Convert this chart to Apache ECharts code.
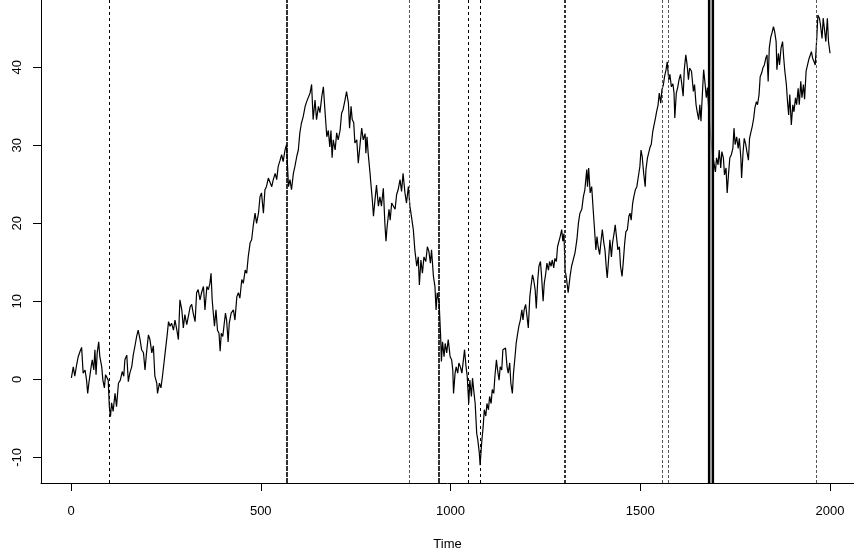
<!DOCTYPE html>
<html>
<head>
<meta charset="utf-8">
<script src="https://cdn.jsdelivr.net/npm/echarts@6/dist/echarts.min.js"></script>
<style>
  html, body { margin: 0; padding: 0; background: #fff; }
  #chart { width: 854px; height: 556px; }
</style>
</head>
<body>
<div id="chart"></div>
<script>
// series (time, value)
var times = [
  1, 6, 10, 15, 19, 24, 28, 32, 37, 41, 44, 47, 53, 56, 60, 63, 66, 69, 73, 76,
  81, 84, 88, 91, 95, 98, 101, 104, 107, 111, 116, 120, 125, 130, 135, 139, 142, 147, 151, 155,
  160, 164, 169, 173, 177, 182, 186, 191, 195, 199, 204, 208, 213, 217, 221, 226, 228, 233, 237, 241,
  245, 249, 253, 257, 261, 265, 270, 274, 279, 283, 287, 292, 296, 300, 305, 309, 314, 318, 322, 327,
  331, 335, 340, 344, 349, 353, 358, 362, 366, 369, 372, 375, 378, 382, 386, 390, 393, 396, 400, 403,
  407, 410, 414, 417, 422, 428, 432, 437, 441, 445, 450, 454, 459, 463, 467, 472, 476, 480, 485, 489,
  494, 498, 502, 507, 511, 515, 520, 524, 529, 533, 538, 542, 546, 551, 555, 559, 564, 568, 573, 577,
  581, 586, 590, 595, 599, 603, 607, 612, 617, 621, 625, 630, 634, 638, 643, 647, 652, 656, 661, 665,
  669, 674, 678, 682, 685, 688, 691, 696, 700, 704, 709, 713, 717, 722, 726, 731, 734, 738, 741, 745,
  748, 753, 757, 762, 766, 770, 775, 777, 780, 783, 788, 790, 794, 797, 801, 805, 810, 814, 818, 823,
  827, 830, 833, 838, 841, 845, 849, 854, 858, 862, 867, 871, 875, 880, 884, 889, 893, 897, 902, 906,
  911, 915, 918, 922, 926, 930, 935, 939, 943, 947, 950, 955, 959, 962, 965, 970, 974, 976, 979, 983,
  986, 990, 994, 999, 1003, 1006, 1008, 1012, 1015, 1019, 1022, 1026, 1030, 1034, 1037, 1041, 1044, 1048, 1051, 1055,
  1058, 1062, 1065, 1069, 1072, 1076, 1078, 1082, 1086, 1089, 1093, 1096, 1100, 1103, 1107, 1110, 1114, 1117, 1121, 1124,
  1128, 1131, 1135, 1138, 1142, 1145, 1149, 1152, 1156, 1159, 1163, 1166, 1170, 1173, 1177, 1180, 1184, 1188, 1191, 1194,
  1198, 1202, 1205, 1209, 1212, 1216, 1219, 1223, 1226, 1230, 1233, 1237, 1240, 1244, 1247, 1251, 1254, 1258, 1261, 1265,
  1268, 1272, 1275, 1279, 1282, 1286, 1289, 1293, 1296, 1299, 1302, 1306, 1310, 1315, 1319, 1324, 1328, 1333, 1337, 1341,
  1346, 1350, 1354, 1359, 1361, 1364, 1368, 1372, 1376, 1379, 1383, 1386, 1389, 1393, 1397, 1400, 1404, 1407, 1411, 1413,
  1417, 1420, 1424, 1427, 1431, 1434, 1438, 1441, 1445, 1448, 1452, 1455, 1459, 1462, 1466, 1470, 1473, 1476, 1480, 1483,
  1487, 1491, 1495, 1499, 1502, 1505, 1509, 1513, 1515, 1519, 1522, 1526, 1529, 1533, 1536, 1540, 1543, 1547, 1550, 1554,
  1557, 1561, 1564, 1568, 1571, 1575, 1578, 1582, 1586, 1589, 1591, 1595, 1599, 1602, 1606, 1609, 1613, 1616, 1620, 1623,
  1627, 1630, 1635, 1640, 1643, 1647, 1650, 1654, 1657, 1660, 1664, 1667, 1671, 1674, 1677, 1681, 1686, 1690, 1694, 1698,
  1701, 1705, 1708, 1712, 1715, 1719, 1722, 1726, 1729, 1733, 1736, 1740, 1744, 1747, 1750, 1754, 1758, 1761, 1765, 1767,
  1771, 1774, 1778, 1781, 1785, 1788, 1792, 1795, 1799, 1802, 1806, 1809, 1813, 1816, 1820, 1823, 1827, 1831, 1834, 1837,
  1840, 1844, 1847, 1851, 1854, 1858, 1860, 1864, 1867, 1871, 1875, 1878, 1881, 1885, 1888, 1891, 1894, 1898, 1902, 1905,
  1909, 1912, 1916, 1919, 1923, 1926, 1930, 1933, 1937, 1940, 1944, 1947, 1951, 1954, 1958, 1961, 1965, 1968, 1972, 1975,
  1979, 1982, 1986, 1989, 1993, 1996, 2000
];
var values = [
  0.2, 1.6, 0.4, 1.9, 2.9, 3.6, 4.1, 0.8, 1.2, -0.1, -1.8, -0.5, 1.6, 2.5, 1.2, 3.8, 0.6, 3.4, 4.8, 2.9,
  1.6, -0.1, -1.1, 0.6, 0.8, -0.1, -3.5, -4.8, -3.0, -4.1, -1.8, -3.5, -0.5, -0.1, 1.0, 0.4, 2.5, 3.1, -0.3, 0.8,
  1.6, 3.1, 4.4, 5.5, 6.3, 5.1, 3.8, 3.4, 1.2, 3.4, 5.7, 5.1, 3.4, 4.3, 0.4, -0.5, -1.8, -0.5, -1.1, 0.4,
  2.1, 3.8, 5.5, 7.4, 6.8, 7.2, 6.3, 7.6, 6.3, 5.1, 10.2, 8.9, 6.6, 8.3, 7.0, 6.8, 9.3, 9.6, 8.5, 7.4,
  11.1, 11.5, 10.2, 11.1, 11.9, 8.9, 11.9, 11.5, 12.3, 13.6, 10.2, 8.5, 6.8, 8.9, 6.3, 5.9, 3.6, 5.9, 5.5, 6.8,
  8.5, 7.6, 4.8, 7.2, 8.5, 8.9, 7.6, 10.6, 11.1, 10.4, 12.8, 12.3, 14.0, 13.6, 15.7, 17.5, 17.9, 19.6, 21.3, 20.0,
  21.3, 23.4, 23.9, 21.3, 24.3, 24.7, 25.8, 26.0, 24.7, 25.6, 26.4, 25.6, 27.3, 28.1, 28.8, 27.9, 29.4, 30.1, 24.7, 25.6,
  24.3, 26.4, 27.3, 28.6, 29.4, 31.6, 32.8, 33.7, 35.0, 35.6, 35.4, 36.7, 37.8, 33.3, 35.8, 33.3, 35.0, 34.2, 36.3, 37.5,
  34.6, 31.1, 31.9, 29.8, 31.9, 28.4, 30.7, 29.4, 31.6, 30.7, 31.9, 34.1, 34.6, 35.8, 36.9, 35.4, 32.2, 35.0, 33.3, 32.9,
  30.3, 30.7, 27.7, 30.3, 32.2, 30.7, 31.5, 29.0, 31.1, 29.0, 26.4, 25.2, 23.0, 20.9, 23.0, 24.9, 22.2, 23.4, 22.2, 24.5,
  20.0, 17.7, 19.6, 21.8, 20.4, 22.6, 22.8, 21.8, 23.7, 24.3, 25.6, 24.1, 26.4, 23.9, 22.6, 24.7, 22.2, 20.9, 19.2, 16.6,
  14.5, 15.7, 12.1, 15.3, 13.6, 15.7, 15.1, 17.0, 16.4, 14.9, 16.6, 13.2, 11.9, 8.9, 11.1, 9.8, 5.5, 2.3, 4.8, 2.9,
  4.6, 3.4, 5.1, 2.9, 2.5, 1.2, -1.8, 0.8, 1.6, 0.8, 2.1, 1.6, 0.8, 2.5, 3.8, 1.6, 0.4, -3.1, -0.1, -2.2,
  0.15, -1.8, -3.1, -6.9, -7.8, -9.5, -11.0, -8.2, -6.1, -3.9, -4.7, -3.1, -3.9, -2.2, -3.1, -1.3, -1.8, 0.4, 2.5, 1.2,
  -0.1, 1.6, 1.2, 3.8, 4.0, 4.0, 1.6, 0.8, 2.1, -0.5, -1.8, 0.8, 2.9, 4.6, 5.9, 6.8, 7.6, 8.9, 7.6, 8.9,
  9.6, 9.8, 6.6, 10.6, 11.9, 13.4, 12.8, 11.5, 9.1, 12.8, 14.5, 15.1, 13.2, 10.0, 12.3, 13.6, 14.9, 14.0, 15.1, 14.5,
  15.3, 14.3, 15.5, 15.1, 17.0, 17.0, 18.3, 19.2, 17.7, 18.7, 14.0, 12.8, 11.1, 13.2, 14.5, 14.3, 16.2, 17.9, 20.0, 21.3,
  21.8, 23.4, 24.3, 26.9, 24.7, 27.1, 23.9, 24.7, 21.7, 19.6, 16.6, 18.3, 17.0, 16.0, 17.9, 19.2, 17.5, 16.6, 14.0, 13.0,
  15.7, 17.9, 15.7, 17.5, 18.7, 19.8, 19.8, 16.6, 17.0, 14.5, 13.2, 14.9, 17.5, 18.9, 19.2, 20.9, 21.3, 20.4, 22.6, 23.4,
  24.3, 24.7, 26.0, 27.3, 29.4, 28.6, 26.4, 24.7, 26.9, 28.4, 29.0, 29.8, 30.1, 31.8, 32.0, 33.5, 34.3, 35.2, 36.7, 35.4,
  37.1, 37.8, 38.8, 39.7, 40.7, 38.4, 39.1, 37.5, 37.9, 36.7, 33.5, 36.7, 37.5, 38.4, 39.1, 38.0, 36.3, 39.7, 41.6, 40.5,
  38.4, 39.9, 39.5, 36.9, 37.8, 35.2, 34.3, 33.3, 35.2, 33.1, 36.9, 39.7, 37.8, 36.1, 37.4, 34.0, 31.0, 29.0, 28.8, 26.6,
  28.4, 27.5, 29.4, 27.1, 29.2, 28.4, 26.2, 27.1, 23.9, 26.6, 28.4, 28.8, 29.6, 32.2, 30.1, 31.1, 29.6, 30.9, 28.4, 25.8,
  29.2, 30.9, 30.1, 29.2, 28.1, 30.9, 31.8, 32.4, 33.5, 34.8, 35.6, 35.2, 36.5, 38.8, 39.3, 39.9, 40.3, 41.2, 41.6, 38.2,
  42.5, 43.9, 44.4, 45.2, 44.6, 43.3, 39.7, 41.8, 40.3, 42.5, 43.3, 41.2, 39.5, 37.8, 35.6, 33.9, 36.5, 32.6, 35.2, 34.3,
  36.1, 35.2, 37.3, 35.2, 38.2, 36.1, 37.8, 35.9, 39.5, 39.7, 41.0, 41.2, 42.0, 41.2, 40.7, 40.3, 43.7, 46.7, 46.3, 45.4,
  43.7, 46.3, 44.6, 43.3, 46.3, 43.3, 41.8
];

// tick labels
var xTicks = [0, 500, 1000, 1500, 2000];
var yTicks = [-10, 0, 10, 20, 30, 40];

// vertical break lines, grouped by how they look
var thinDashed = [100, 1047, 1078];
var greyDashed = [891, 1557, 1573, 1963];
var heavyDashed = [569, 970];
var heavyDotted = [1300];
var solidPair = [1681, 1690];

var chart = echarts.init(document.getElementById('chart'));

var seriesData = times.map(function (t, i) { return [t, values[i]]; });

function vlines(list, style) {
  return list.map(function (t) {
    return { xAxis: t, lineStyle: style };
  });
}

var marks = []
  .concat(vlines(thinDashed, { color: '#000', width: 1, type: [3, 3] }))
  .concat(vlines(greyDashed, { color: '#555', width: 1, type: [3, 2] }))
  .concat(vlines(heavyDashed, { color: '#000', width: 1.6, type: [5, 1] }))
  .concat(vlines(heavyDotted, { color: '#333', width: 2, type: [3, 2] }))
  .concat(vlines(solidPair, { color: '#000', width: 2.2, type: 'solid' }))
  .concat(vlines([1685.5], { color: '#888', width: 1.6, type: 'solid' }));

var fontBase = { fontFamily: 'Liberation Sans', fontSize: 13, color: '#000' };

var option = {
  animation: false,
  backgroundColor: '#fff',
  grid: { left: 41, right: 0, top: 0, bottom: 73 },
  xAxis: {
    type: 'value',
    min: -79.05,
    max: 2063.2,
    name: 'Time',
    nameLocation: 'middle',
    nameGap: 55,
    nameTextStyle: fontBase,
    splitLine: { show: false },
    axisLine: { show: true, onZero: false, lineStyle: { color: '#000', width: 1 } },
    axisTick: { show: true, length: 8, customValues: xTicks, lineStyle: { color: '#000' } },
    axisLabel: Object.assign({
      customValues: xTicks,
      margin: 22,
      formatter: function (v) { return String(v); }
    }, fontBase)
  },
  yAxis: {
    type: 'value',
    min: -13.29,
    max: 48.63,
    splitLine: { show: false },
    axisLine: { show: true, onZero: false, lineStyle: { color: '#000', width: 1 } },
    axisTick: { show: true, length: 8, customValues: yTicks, lineStyle: { color: '#000' } },
    axisLabel: Object.assign({ customValues: yTicks, margin: 17, rotate: 90 }, fontBase)
  },
  series: [
    {
      type: 'line',
      data: seriesData,
      showSymbol: false,
      symbol: 'none',
      lineStyle: { color: '#000', width: 1.2 },
      markLine: {
        silent: true,
        symbol: 'none',
        label: { show: false },
        data: marks
      }
    }
  ]
};
chart.setOption(option);
</script>
</body>
</html>
